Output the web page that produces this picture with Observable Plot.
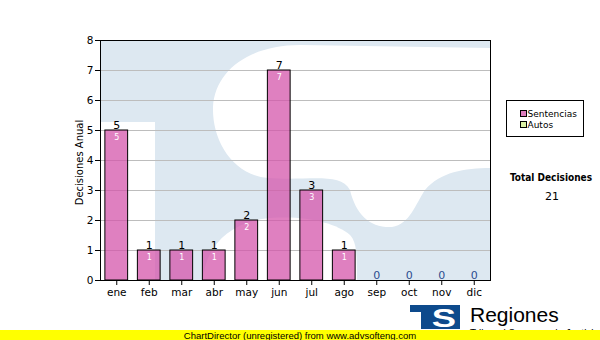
<!DOCTYPE html>
<html><head><meta charset="utf-8">
<script src="https://cdn.jsdelivr.net/npm/d3@7"></script>
<script src="https://cdn.jsdelivr.net/npm/@observablehq/plot@0.6"></script>
<style>
body{margin:0;background:#fff;}
#wrap{position:relative;width:600px;height:340px;overflow:hidden;background:#fff;}
#wm,#chart,#over{position:absolute;left:0;top:0;}
#chart svg{background:transparent;}
</style></head><body>
<div id="wrap">
<svg id="wm" width="600" height="340">
  <defs><clipPath id="pa"><rect x="100" y="40" width="390" height="240"/></clipPath></defs>
  <g clip-path="url(#pa)">
    <rect x="100" y="40" width="390" height="240" fill="#dde8f1"/>
    <rect x="100" y="122" width="55" height="158" fill="#fff"/>
    <path fill="#fff" d="M490,48 L300,45 C250,45 215,70 213,107 C212,140 232,175 268,178 C310,181 340,172 350,190 C356,215 370,228 392,227 C410,224 415,205 425,190 C440,172 465,168 490,168 Z"/>
    <path fill="#fff" d="M203,280 C205,250 225,225 262,219 C300,214 335,222 350,235 C356,242 357,250 357,280 Z"/>
  </g>
</svg>
<div id="chart"></div>
<svg id="over" width="600" height="340">
  <rect x="506.5" y="100.5" width="77" height="36" fill="#fff" stroke="#000"/>
  <rect x="520.5" y="110.5" width="6" height="6" fill="#dd7dbd" stroke="#000"/>
  <rect x="520.5" y="121.5" width="6" height="6" fill="#d9f0a3" stroke="#000"/>
  <g font-family="DejaVu Sans, sans-serif" font-size="9" fill="#000">
    <text id="lg1" x="527.5" y="117"></text>
    <text id="lg2" x="527.5" y="128"></text>
    <text id="tt" x="551" y="181" text-anchor="middle" font-weight="bold" font-family="DejaVu Sans Condensed, DejaVu Sans, sans-serif" font-size="10"></text>
    <text id="tv" x="552" y="200" text-anchor="middle" font-size="11"></text>
  </g>
  <rect x="410" y="305" width="20" height="7" fill="#0d4a8c"/>
  <rect x="421" y="305" width="9" height="24" fill="#0d4a8c"/>
  <rect x="428" y="305" width="32" height="24" fill="#0d4a8c"/>
  <text x="444" y="327" text-anchor="middle" font-family="Liberation Sans, Arial" font-weight="bold" font-size="26" fill="#fff" transform="translate(444,0) scale(1.4,1) translate(-444,0)">S</text>
  <text x="470" y="322" font-family="Liberation Sans, Arial" font-size="21" fill="#000">Regiones</text>
  <text x="470" y="337" font-family="Liberation Sans, Arial" font-size="10" fill="#000">Tribunal Supremo de Justicia</text>
  <rect x="0" y="330" width="600" height="10" fill="#ffff00"/>
  <text x="300" y="338.5" text-anchor="middle" font-family="Liberation Sans, Arial" font-size="9.5" fill="#000">ChartDirector (unregistered) from www.advsofteng.com</text>
</svg>
</div>
<script>
const months = ["ene","feb","mar","abr","may","jun","jul","ago","sep","oct","nov","dic"];
const sentencias = [5,1,1,1,2,7,3,1,0,0,0,0];
const autos = [0,0,0,0,0,0,0,0,0,0,0,0];
const yTicks = [0,1,2,3,4,5,6,7,8];
const seriesNames = ["Sentencias","Autos"];
const totalLabel = "Total Decisiones";
const yLabel = "Decisiones Anual";

const data = months.map((m,i)=>({mes:m, sentencias:sentencias[i], autos:autos[i], total:sentencias[i]+autos[i]}));
const totalAll = d3.sum(data, d=>d.total);

const chart = Plot.plot({
  width:600, height:340,
  marginLeft:100, marginRight:110, marginTop:40, marginBottom:60,
  style:{background:"transparent", fontFamily:"DejaVu Sans, sans-serif", fontSize:"10px", color:"#000"},
  x:{domain:months, paddingInner:0.3, paddingOuter:0.15, round:false, label:null},
  y:{domain:[0,8], label:null},
  marks:[
    Plot.gridY(yTicks.filter(t=>t>0&&t<8),{stroke:"#bdbdbd", strokeOpacity:1}),
    Plot.barY(data.filter(d=>d.sentencias>0),{x:"mes", y:"sentencias", fill:"#d455ab", fillOpacity:0.75, stroke:"#000", strokeWidth:1}),
    Plot.frame({stroke:"#000"}),
    Plot.axisY(yTicks,{tickSize:5, tickPadding:2, label:null, fontSize:10.5}),
    Plot.axisX({tickSize:5, tickPadding:3, label:null, fontSize:10.5}),
    Plot.text(data.filter(d=>d.total>0),{x:"mes", y:"total", text:d=>String(d.total), lineAnchor:"bottom", dy:-2, fontSize:11, fill:"#000"}),
    Plot.text(data.filter(d=>d.total===0),{x:"mes", y:"total", text:d=>String(d.total), lineAnchor:"bottom", dy:-2, fontSize:11, fill:"#2c4d8f"}),
    Plot.text(data.filter(d=>d.sentencias>0),{x:"mes", y:"sentencias", text:d=>String(d.sentencias), lineAnchor:"top", dy:4, fontSize:8, fill:"#fff"}),
    Plot.text([yLabel],{frameAnchor:"left", textAnchor:"middle", rotate:-90, dx:-21, dy:2, fontSize:10, fill:"#000"})
  ]
});
document.getElementById("chart").appendChild(chart);
document.getElementById("lg1").textContent = seriesNames[0];
document.getElementById("lg2").textContent = seriesNames[1];
document.getElementById("tt").textContent = totalLabel;
document.getElementById("tv").textContent = String(totalAll);
</script>
</body></html>
